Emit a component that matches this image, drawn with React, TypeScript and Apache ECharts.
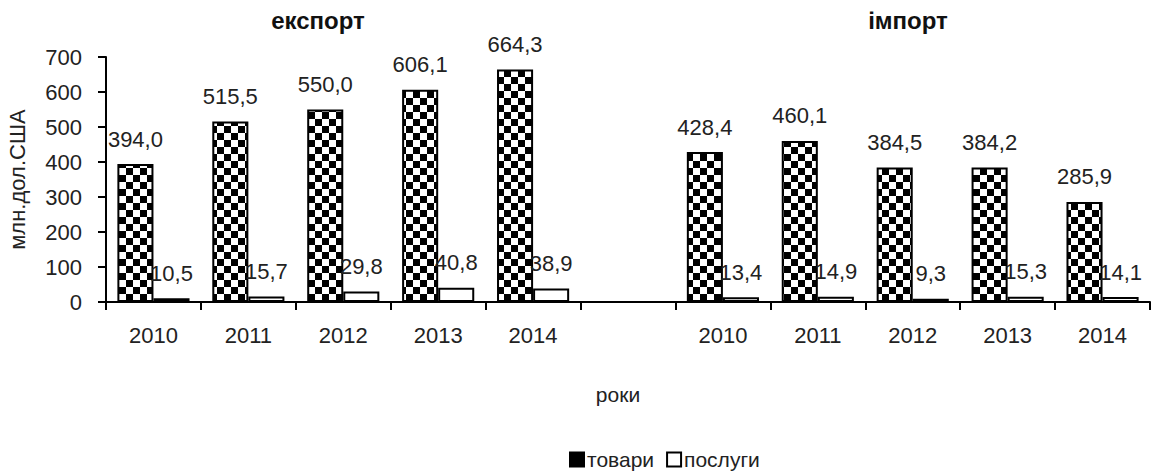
import React, { useEffect, useRef } from "react";
import * as echarts from "echarts";

const categories = ["2010", "2011", "2012", "2013", "2014", "", "2010", "2011", "2012", "2013", "2014"];
const goods = [394.0, 515.5, 550.0, 606.1, 664.3, null, 428.4, 460.1, 384.5, 384.2, 285.9];
const services = [10.5, 15.7, 29.8, 40.8, 38.9, null, 13.4, 14.9, 9.3, 15.3, 14.1];
const yTicks = { min: 0, max: 700, interval: 100 };

const FONT = "Liberation Sans";

function makeChecker(): HTMLCanvasElement {
  const c = document.createElement("canvas");
  const s = 7;
  c.width = s * 2;
  c.height = s * 2;
  const ctx = c.getContext("2d")!;
  ctx.fillStyle = "#ffffff";
  ctx.fillRect(0, 0, s * 2, s * 2);
  ctx.fillStyle = "#000000";
  ctx.fillRect(0, 0, s, s);
  ctx.fillRect(s, s, s, s);
  return c;
}

const fmt = (v: number) => v.toFixed(1).replace(".", ",");

export default function App() {
  const ref = useRef<HTMLDivElement>(null);
  useEffect(() => {
    if (!ref.current) return;
    const chart = echarts.init(ref.current, undefined, { renderer: "svg" });
    const checker = makeChecker();
    const label = {
      show: true,
      position: "top" as const,
      distance: 14,
      fontFamily: FONT,
      fontSize: 22,
      color: "#222",
      formatter: (p: any) => fmt(p.value),
    };
    chart.setOption({
      animation: false,
      backgroundColor: "#ffffff",
      textStyle: { fontFamily: FONT },
      grid: { left: 106, right: 9, top: 57, bottom: 174, outerBoundsMode: "none", containLabel: false },
      xAxis: {
        type: "category",
        data: categories,
        name: "роки",
        nameLocation: "middle",
        nameGap: 82,
        nameTextStyle: { fontFamily: FONT, fontSize: 21, color: "#222", padding: [0, 20, 0, 0] },
        axisLine: { lineStyle: { color: "#000", width: 2 } },
        axisTick: { show: true, length: 8, lineStyle: { color: "#000", width: 2 } },
        axisLabel: { fontFamily: FONT, fontSize: 22, color: "#222", margin: 22 },
      },
      yAxis: {
        type: "value",
        min: yTicks.min,
        max: yTicks.max,
        interval: yTicks.interval,
        name: "млн.дол.США",
        nameLocation: "middle",
        nameGap: 78,
        nameTextStyle: { fontFamily: FONT, fontSize: 22, color: "#222" },
        axisLine: { show: true, lineStyle: { color: "#000", width: 2 } },
        axisTick: { show: true, length: 8, lineStyle: { color: "#000", width: 2 } },
        axisLabel: { fontFamily: FONT, fontSize: 22, color: "#222", margin: 24 },
        splitLine: { show: false },
      },
      legend: {
        bottom: 1,
        left: 564,
        itemWidth: 14,
        itemHeight: 14,
        itemGap: 12,
        textStyle: { fontFamily: FONT, fontSize: 21, color: "#222", padding: [0, 0, 0, -2] },
        data: [
          { name: "товари", icon: "rect", itemStyle: { color: "#000", borderColor: "#000", borderWidth: 2 } },
          { name: "послуги", icon: "rect", itemStyle: { color: "#fff", borderColor: "#000", borderWidth: 2 } },
        ],
      },
      graphic: [
        { type: "text", x: 318, y: 20, style: { text: "експорт", font: `bold 24px "${FONT}"`, fill: "#111", textAlign: "center", textVerticalAlign: "middle" } },
        { type: "text", x: 908, y: 20, style: { text: "імпорт", font: `bold 24px "${FONT}"`, fill: "#111", textAlign: "center", textVerticalAlign: "middle" } },
      ],
      series: [
        {
          name: "товари",
          type: "bar",
          data: goods.map((v) => (v === null ? "-" : v)),
          barGap: "0%",
          barCategoryGap: "24%",
          itemStyle: { color: { image: checker, repeat: "repeat" } as any, borderColor: "#000", borderWidth: 2 },
          label,
        },
        {
          name: "послуги",
          type: "bar",
          data: services.map((v) => (v === null ? "-" : v)),
          itemStyle: { color: "#fff", borderColor: "#000", borderWidth: 2 },
          label,
        },
      ],
    });
    return () => chart.dispose();
  }, []);
  return <div ref={ref} style={{ width: 1159, height: 476, position: "absolute", left: 0, top: 0 }} />;
}
